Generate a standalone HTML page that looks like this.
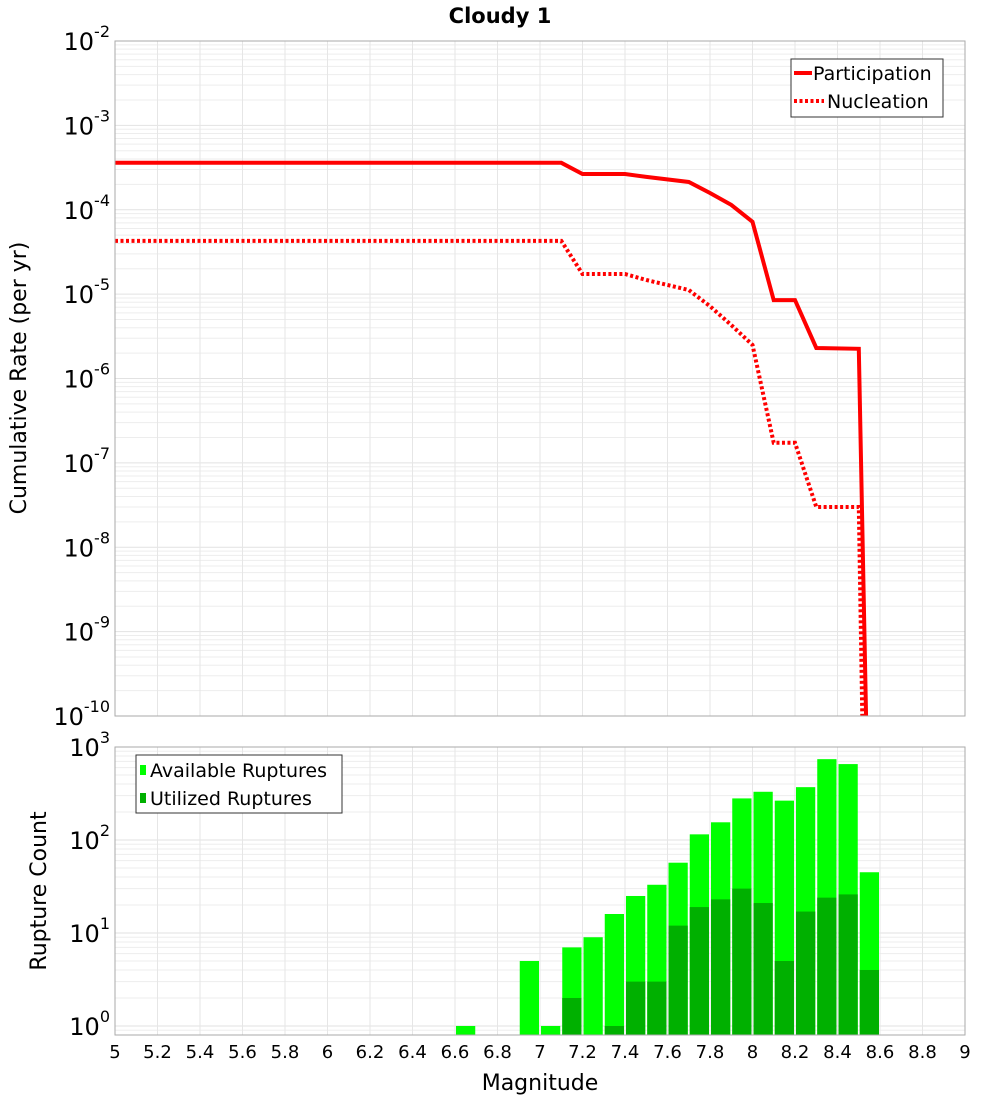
<!DOCTYPE html>
<html><head><meta charset="utf-8"><style>
body{margin:0;background:#fff}
svg{font-family:"DejaVu Sans","Liberation Sans",sans-serif}
</style></head><body>
<svg id="s" width="1000" height="1100" xmlns="http://www.w3.org/2000/svg">
<text x="500" y="23" text-anchor="middle" font-size="21" font-weight="bold">Cloudy 1</text>
<g id="topPlot"></g>
<g id="botPlot"></g>
<text transform="translate(26,378) rotate(-90)" text-anchor="middle" font-size="22">Cumulative Rate (per yr)</text>
<text transform="translate(46,891) rotate(-90)" text-anchor="middle" font-size="22">Rupture Count</text>
<text x="540" y="1090" text-anchor="middle" font-size="22">Magnitude</text>
</svg>
<script>
const partMag=[5,7.1,7.2,7.4,7.5,7.7,7.8,7.9,8.0,8.1,8.2,8.3,8.5,8.55];
const partRate=[3.6e-4,3.6e-4,2.65e-4,2.65e-4,2.45e-4,2.13e-4,1.58e-4,1.14e-4,7.2e-5,8.5e-6,8.5e-6,2.3e-6,2.25e-6,1e-12];
const nuclMag=[5,7.1,7.2,7.4,7.5,7.7,7.8,7.9,8.0,8.1,8.2,8.3,8.5,8.53];
const nuclRate=[4.27e-5,4.27e-5,1.73e-5,1.73e-5,1.47e-5,1.12e-5,7.2e-6,4.3e-6,2.5e-6,1.73e-7,1.73e-7,3.0e-8,3.0e-8,1e-12];
const binMag=[6.6,6.9,7.0,7.1,7.2,7.3,7.4,7.5,7.6,7.7,7.8,7.9,8.0,8.1,8.2,8.3,8.4,8.5];
const availCount=[1,5,1,7,9,16,25,33,57,115,155,280,330,265,370,740,655,45];
const usedCount=[0,0,0,2,0,1,3,3,12,19,23,30,21,5,17,24,26,4];
const xTicks=[5,5.2,5.4,5.6,5.8,6,6.2,6.4,6.6,6.8,7,7.2,7.4,7.6,7.8,8,8.2,8.4,8.6,8.8,9];
const rateExp=[-2,-3,-4,-5,-6,-7,-8,-9,-10];
const countExp=[3,2,1,0];

const NS="http://www.w3.org/2000/svg";
const L=115,R=965;
const X=m=>L+(m-5)/4*(R-L);
const T0=41,T1=716;
const Yr=v=>T0+(-2-Math.log10(v))/8*(T1-T0);
const B0=747,B1=1035,BL=-0.097;
const Yc=v=>B0+(3-Math.log10(v))/(3-BL)*(B1-B0);
function mk(p,tag,a){const e=document.createElementNS(NS,tag);for(const k in a)e.setAttribute(k,a[k]);p.appendChild(e);return e;}
const topG=document.getElementById('topPlot'),botG=document.getElementById('botPlot'),svgEl=document.getElementById('s');

function grid(g,y0,y1,Yf,eMin,eMax){
  for(let e=eMin;e<eMax;e++)for(let k=1;k<10;k++){const y=Yf(k*Math.pow(10,e));if(y<y0-0.5||y>y1+0.5)continue;
    const ln=mk(g,'line',{x1:L,x2:R,y1:y,y2:y,stroke:k==1?'#e2e2e2':'#ededed','stroke-width':1});
    
    }
  xTicks.forEach(t=>{const ln=mk(g,'line',{x1:X(t),x2:X(t),y1:y0,y2:y1,stroke:'#e6e6e6','stroke-width':1});
    
    });
}
grid(topG,T0,T1,Yr,-10,-1);
grid(botG,B0,B1,Yc,-1,3);

const defs=mk(svgEl,'defs',{});const cp=mk(defs,'clipPath',{id:'ct'});mk(cp,'rect',{x:L,y:T0,width:R-L,height:T1-T0});
function line(mags,rates,dash,name){
  let d=mags.map((m,i)=>(i?'L':'M')+X(m).toFixed(1)+','+Yr(rates[i]).toFixed(1)).join('');
  const p=mk(topG,'path',{d:d,fill:'none',stroke:'#ff0000','stroke-width':4,'clip-path':'url(#ct)'});
  if(dash)p.setAttribute('stroke-dasharray','3,2.5');
  
  
}
line(partMag,partRate,false,'participation-line');
line(nuclMag,nuclRate,true,'nucleation-line');

binMag.forEach((m,i)=>{
  const x=X(m)+1,w=X(m+0.1)-X(m)-2;
  if(availCount[i]>0){const r=mk(botG,'rect',{x:x,y:Yc(availCount[i]),width:w,height:B1-Yc(availCount[i]),fill:'#00ff00'});
    
    }
  if(usedCount[i]>0){const r=mk(botG,'rect',{x:x,y:Yc(usedCount[i]),width:w,height:B1-Yc(usedCount[i]),fill:'#00b000'});
    
    }
});

mk(topG,'rect',{x:L,y:T0,width:R-L,height:T1-T0,fill:'none',stroke:'#aaa'});
mk(botG,'rect',{x:L,y:B0,width:R-L,height:B1-B0,fill:'none',stroke:'#aaa'});

function ylab(g,y,e,name){
  const t=mk(g,'text',{x:110,y:y+9,'text-anchor':'end','font-size':24});
  t.textContent='10';
  const s=mk(t,'tspan',{dy:-13,'font-size':16});s.textContent=String(e);
  
  
}
rateExp.forEach(e=>ylab(topG,Yr(Math.pow(10,e)),e,'rate-y-tick-label'));
countExp.forEach(e=>ylab(botG,Yc(Math.pow(10,e)),e,'count-y-tick-label'));
xTicks.forEach(t=>{const tx=mk(botG,'text',{x:X(t),y:1058,'text-anchor':'middle','font-size':18});tx.textContent=String(t);
  
  });

const lg1=mk(topG,'g',{});


mk(lg1,'rect',{x:791,y:59,width:152,height:58,fill:'#fff',stroke:'#333'});
mk(lg1,'line',{x1:794,x2:812,y1:73,y2:73,stroke:'#f00','stroke-width':4});
mk(lg1,'line',{x1:794,x2:824,y1:101,y2:101,stroke:'#f00','stroke-width':4,'stroke-dasharray':'3,2.5'});
let tt=mk(lg1,'text',{x:813,y:80,'font-size':19});tt.textContent='Participation';
tt=mk(lg1,'text',{x:827,y:108,'font-size':19});tt.textContent='Nucleation';
const lg2=mk(botG,'g',{});


mk(lg2,'rect',{x:136,y:755,width:206,height:58,fill:'#fff',stroke:'#333'});
mk(lg2,'rect',{x:140,y:765,width:6,height:10,fill:'#00ff00'});
mk(lg2,'rect',{x:140,y:793,width:6,height:10,fill:'#00b000'});
tt=mk(lg2,'text',{x:150,y:777,'font-size':19});tt.textContent='Available Ruptures';
tt=mk(lg2,'text',{x:150,y:805,'font-size':19});tt.textContent='Utilized Ruptures';
</script>
</body></html>
